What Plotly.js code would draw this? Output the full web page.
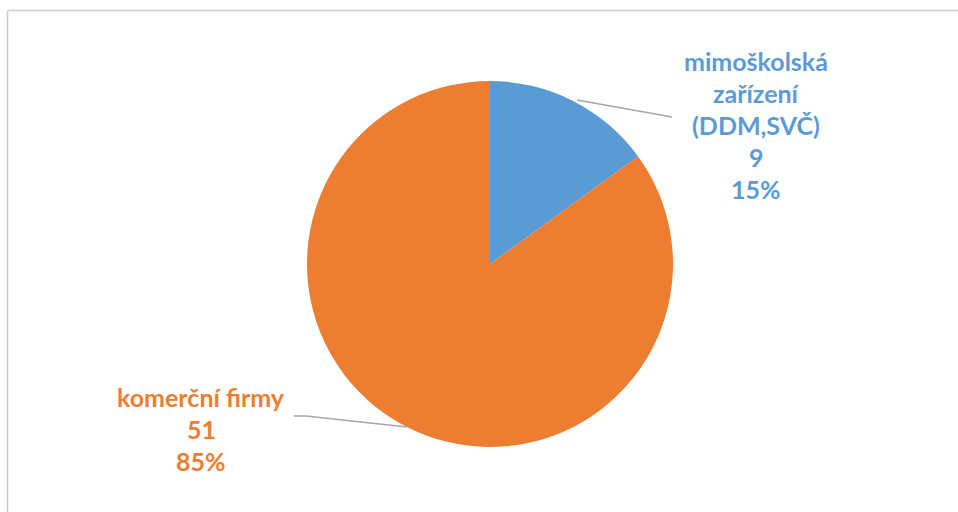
<!DOCTYPE html>
<html>
<head>
<meta charset="utf-8">
<script src="https://cdn.plot.ly/plotly-3.0.1.min.js"></script>
<style>html,body{margin:0;padding:0;background:#fff}#chart{width:958px;height:512px}</style>
</head>
<body>
<div id="chart"></div>
<script>
var labels = ['mimoškolská<br>zařízení<br>(DDM,SVČ)', 'komerční firmy'];
var values = [9, 51];
var colors = ['#5B9BD5', '#ED7D31'];

var W = 958, H = 512;
function px(x){ return x / W; }
function py(y){ return 1 - y / H; }

var total = values.reduce(function(a,b){return a+b;}, 0);

// label block anchor (pixel centre of first line) and leader line paths
var labelPos = [{x: 756, y: 61}, {x: 201, y: 397}];
var leaders = [
  [[577,100],[672,117]],
  [[294,416],[306,416],[407,427]]
];

var annotations = [];
labels.forEach(function(lab, i){
  var lines = lab.split('<br>').concat([String(values[i]), Math.round(values[i]/total*100) + '%']);
  lines.forEach(function(t, j){
    annotations.push({
      xref: 'paper', yref: 'paper',
      x: px(labelPos[i].x), y: py(labelPos[i].y),
      xanchor: 'center', yanchor: 'middle',
      yshift: -j * 32,
      text: t, showarrow: false,
      font: {family: 'Lato, "Open Sans", sans-serif', size: 25, color: colors[i], weight: 'bold'}
    });
  });
});

var shapes = [
  {type: 'line', xref: 'paper', yref: 'paper', x0: px(7.5), y0: py(10.5), x1: px(958), y1: py(10.5), line: {color: '#CCCCCC', width: 1.5}},
  {type: 'line', xref: 'paper', yref: 'paper', x0: px(7.5), y0: py(10.5), x1: px(7.5), y1: py(512), line: {color: '#CCCCCC', width: 1.5}}
];
leaders.forEach(function(pts){
  var d = pts.map(function(p, k){ return (k ? 'L' : 'M') + px(p[0]) + ',' + py(p[1]); }).join(' ');
  shapes.push({type: 'path', xref: 'paper', yref: 'paper', path: d, line: {color: '#A6A6A6', width: 1.5}});
});

var cx = 490, cy = 264, r = 183;
var data = [{
  type: 'pie',
  labels: labels,
  values: values,
  sort: false,
  direction: 'clockwise',
  rotation: 0,
  marker: {colors: colors, line: {color: '#FFFFFF', width: 0}},
  textinfo: 'none',
  hoverinfo: 'label+value+percent',
  domain: {x: [px(cx - r), px(cx + r)], y: [py(cy + r), py(cy - r)]}
}];

var layout = {
  width: W, height: H,
  margin: {l: 0, r: 0, t: 0, b: 0},
  paper_bgcolor: '#FFFFFF',
  showlegend: false,
  annotations: annotations,
  shapes: shapes
};

Plotly.newPlot('chart', data, layout, {displayModeBar: false, staticPlot: true});
</script>
</body>
</html>
